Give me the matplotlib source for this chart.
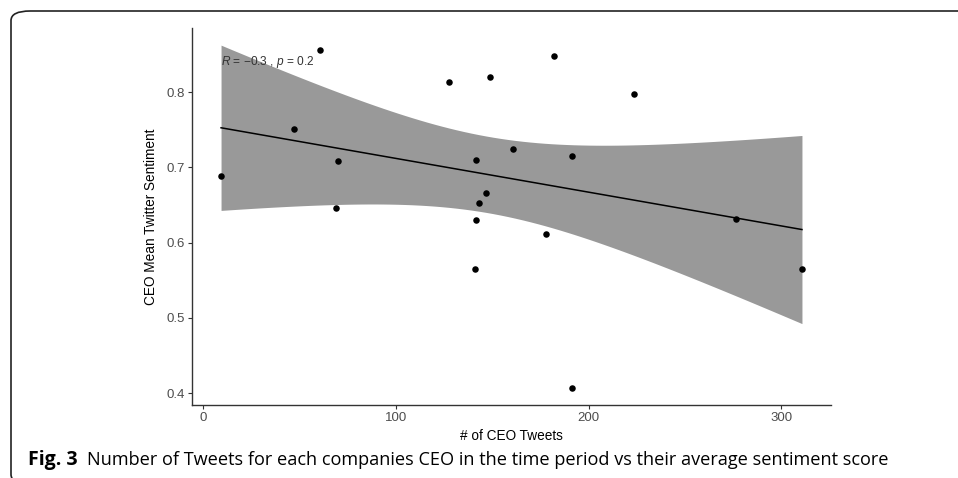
import numpy as np
import matplotlib
matplotlib.use('Agg')
import matplotlib.pyplot as plt
from matplotlib.patches import FancyBboxPatch

# number of tweets per CEO and mean sentiment of those tweets
tweets = [9.2, 47.3, 60.7, 69.0, 70.0, 127.5, 140.8, 141.4, 141.4, 143.3,
          146.6, 148.6, 161.0, 177.7, 182.0, 191.4, 191.4, 223.6, 276.3, 310.8]
sentiment = [0.688, 0.751, 0.856, 0.646, 0.709, 0.814, 0.565, 0.710, 0.630, 0.653,
             0.666, 0.820, 0.724, 0.611, 0.848, 0.715, 0.407, 0.797, 0.632, 0.565]
x_ticks = [0, 100, 200, 300]
y_ticks = [0.4, 0.5, 0.6, 0.7, 0.8]
p_value = 0.2
t_crit = 2.101  # t(0.975, df = 18)

plt.rcParams['font.family'] = ['Liberation Sans', 'DejaVu Sans']
plt.rcParams['mathtext.fontset'] = 'custom'
plt.rcParams['mathtext.rm'] = 'Liberation Sans'
plt.rcParams['mathtext.it'] = 'Liberation Sans:italic'

x = np.array(tweets)
y = np.array(sentiment)
n = len(x)

# linear fit with 95% confidence band, like geom_smooth(method = "lm")
slope, intercept = np.polyfit(x, y, 1)
resid = y - (intercept + slope * x)
s = np.sqrt(np.sum(resid ** 2) / (n - 2))
xs = np.linspace(x.min(), x.max(), 80)
fit = intercept + slope * xs
se = s * np.sqrt(1 / n + (xs - x.mean()) ** 2 / np.sum((x - x.mean()) ** 2))
lower = fit - t_crit * se
upper = fit + t_crit * se
r = np.corrcoef(x, y)[0, 1]

W, H = 958, 478
fig = plt.figure(figsize=(W / 100, H / 100), dpi=100)
ax = fig.add_axes([192 / W, 1 - 405 / H, (831 - 192) / W, (405 - 28) / H])

ax.fill_between(xs, lower, upper, color='#999999', linewidth=0, zorder=1)
ax.plot(xs, fit, color='black', linewidth=1.1, zorder=2)
ax.scatter(x, y, s=22, color='black', linewidths=0, zorder=3)

# ggplot-style 5% padding
xr = x.max() - x.min()
ax.set_xlim(x.min() - 0.05 * xr, x.max() + 0.05 * xr)
ylo = min(y.min(), lower.min())
yhi = max(y.max(), upper.max())
yr = yhi - ylo
ax.set_ylim(ylo - 0.05 * yr, yhi + 0.05 * yr)

ax.text(x.min(), yhi - 0.022,
        r'$R$ = ' + f'\u2212{abs(r):.1f}' + r' , $p$ = ' + f'{p_value}',
        fontsize=8.6, color='#333333', va='center', ha='left', zorder=4)

ax.set_xticks(x_ticks)
ax.set_yticks(y_ticks)
ax.set_yticklabels([f'{v:.1f}' for v in y_ticks])
for side in ['top', 'right']:
    ax.spines[side].set_visible(False)
for side in ['left', 'bottom']:
    ax.spines[side].set_color('#333333')
    ax.spines[side].set_linewidth(1.0)
ax.tick_params(colors='#333333', labelcolor='#4d4d4d', labelsize=9.5,
               length=3, width=0.8, pad=2)
ax.set_xlabel('# of CEO Tweets', fontsize=9.8, color='black', labelpad=4)
ax.set_ylabel('CEO Mean Twitter Sentiment', fontsize=9.8, color='black',
              labelpad=6)

# page frame with rounded corner
frame = FancyBboxPatch((11 / W, -6 / H), 1.2, (H - 11 + 6) / H,
                       boxstyle='round,pad=0,rounding_size=0.02',
                       transform=fig.transFigure, fill=False,
                       edgecolor='#222222', linewidth=1.2, clip_on=False)
fig.patches.append(frame)

fig.text(28 / W, 1 - 460 / H, 'Fig. 3', fontsize=14, fontweight='bold',
         family=['Open Sans', 'DejaVu Sans'], color='black', va='center')
fig.text(87 / W, 1 - 460 / H,
         'Number of Tweets for each companies CEO in the time period vs their average sentiment score',
         fontsize=13.1, family=['Open Sans', 'DejaVu Sans'], color='black',
         va='center')

fig.savefig('out.png', dpi=100)
